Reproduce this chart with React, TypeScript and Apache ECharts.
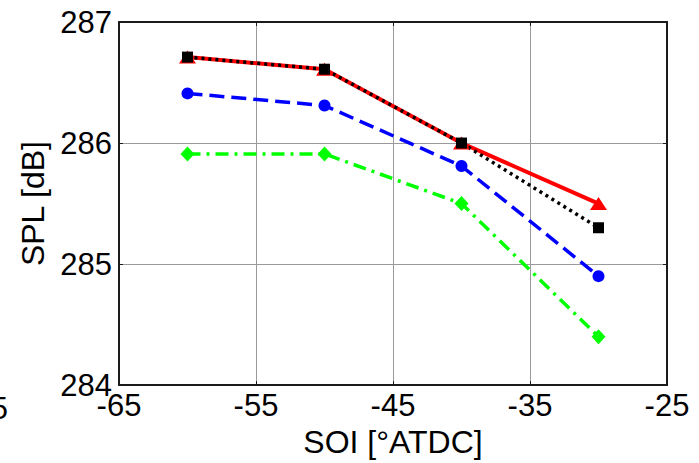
import React, { useEffect, useRef } from "react";
import * as echarts from "echarts";

const soi = [-60, -50, -40, -30];
const redSolid = [286.71, 286.61, 286.0, 285.5];
const blackDotted = [286.71, 286.61, 286.0, 285.3];
const blueDashed = [286.41, 286.31, 285.81, 284.9];
const greenDashDot = [285.91, 285.91, 285.5, 284.4];

const FONT = "Liberation Sans, Arial, Helvetica, sans-serif";

function pairs(ys: number[]) {
  return soi.map((x, i) => [x, ys[i]]);
}

export default function App() {
  const ref = useRef<HTMLDivElement>(null);
  useEffect(() => {
    if (!ref.current) return;
    const chart = echarts.init(ref.current, null, { renderer: "svg" });
    const axisLine = { show: true, lineStyle: { color: "#1a1a1a", width: 2 } };
    chart.setOption({
      animation: false,
      backgroundColor: "#ffffff",
      grid: { left: 119, right: 32, top: 22, bottom: 76, containLabel: false },
      xAxis: [
        {
          type: "value",
          min: -65,
          max: -25,
          interval: 10,
          position: "bottom",
          name: "SOI [°ATDC]",
          nameLocation: "middle",
          nameGap: 38,
          nameTextStyle: { color: "#000", fontSize: 32, fontFamily: FONT },
          axisLine,
          axisTick: { show: true, inside: true, length: 4, lineStyle: { color: "#1a1a1a", width: 1 } },
          axisLabel: { color: "#000", fontSize: 31, fontFamily: FONT, margin: 5 },
          splitLine: { show: true, lineStyle: { color: "#9a9a9a", width: 1 } },
        },
        {
          type: "value",
          min: -65,
          max: -25,
          interval: 10,
          position: "top",
          axisLine,
          axisTick: { show: true, inside: true, length: 4, lineStyle: { color: "#1a1a1a", width: 1 } },
          axisLabel: { show: false },
          splitLine: { show: false },
        },
      ],
      yAxis: [
        {
          type: "value",
          min: 284,
          max: 287,
          interval: 1,
          position: "left",
          name: "SPL [dB]",
          nameLocation: "middle",
          nameGap: 67,
          nameTextStyle: { color: "#000", fontSize: 32, fontFamily: FONT },
          axisLine,
          axisTick: { show: true, inside: true, length: 4, lineStyle: { color: "#1a1a1a", width: 1 } },
          axisLabel: { color: "#000", fontSize: 31, fontFamily: FONT, margin: 7 },
          splitLine: { show: true, lineStyle: { color: "#9a9a9a", width: 1 } },
        },
        {
          type: "value",
          min: 284,
          max: 287,
          interval: 1,
          position: "right",
          axisLine,
          axisTick: { show: true, inside: true, length: 4, lineStyle: { color: "#1a1a1a", width: 1 } },
          axisLabel: { show: false },
          splitLine: { show: false },
        },
      ],
      graphic: [
        {
          type: "text",
          x: 8,
          y: 408,
          style: {
            text: "-75",
            fill: "#000",
            font: `31px ${FONT}`,
            textAlign: "right",
            textVerticalAlign: "middle",
          },
        },
      ],
      series: [
        {
          type: "line",
          data: pairs(redSolid),
          symbol: "triangle",
          symbolSize: [17, 13],
          itemStyle: { color: "#ff0000" },
          lineStyle: { color: "#ff0000", width: 4, type: "solid" },
        },
        {
          type: "line",
          data: pairs(blackDotted),
          symbol: "rect",
          symbolSize: 11,
          itemStyle: { color: "#000000" },
          lineStyle: { color: "#000000", width: 3.5, type: [3, 4] },
        },
        {
          type: "line",
          data: pairs(blueDashed),
          symbol: "circle",
          symbolSize: 12,
          itemStyle: { color: "#0000ff" },
          lineStyle: { color: "#0000ff", width: 3.5, type: [15, 7] },
        },
        {
          type: "line",
          data: pairs(greenDashDot),
          symbol: "diamond",
          symbolSize: [14, 15],
          itemStyle: { color: "#00ff00" },
          lineStyle: { color: "#00ff00", width: 3.5, type: [13, 6, 3, 6] },
        },
      ],
    });
    return () => chart.dispose();
  }, []);
  return (
    <div
      ref={ref}
      style={{ position: "absolute", left: 0, top: 0, width: 699, height: 463 }}
    />
  );
}
